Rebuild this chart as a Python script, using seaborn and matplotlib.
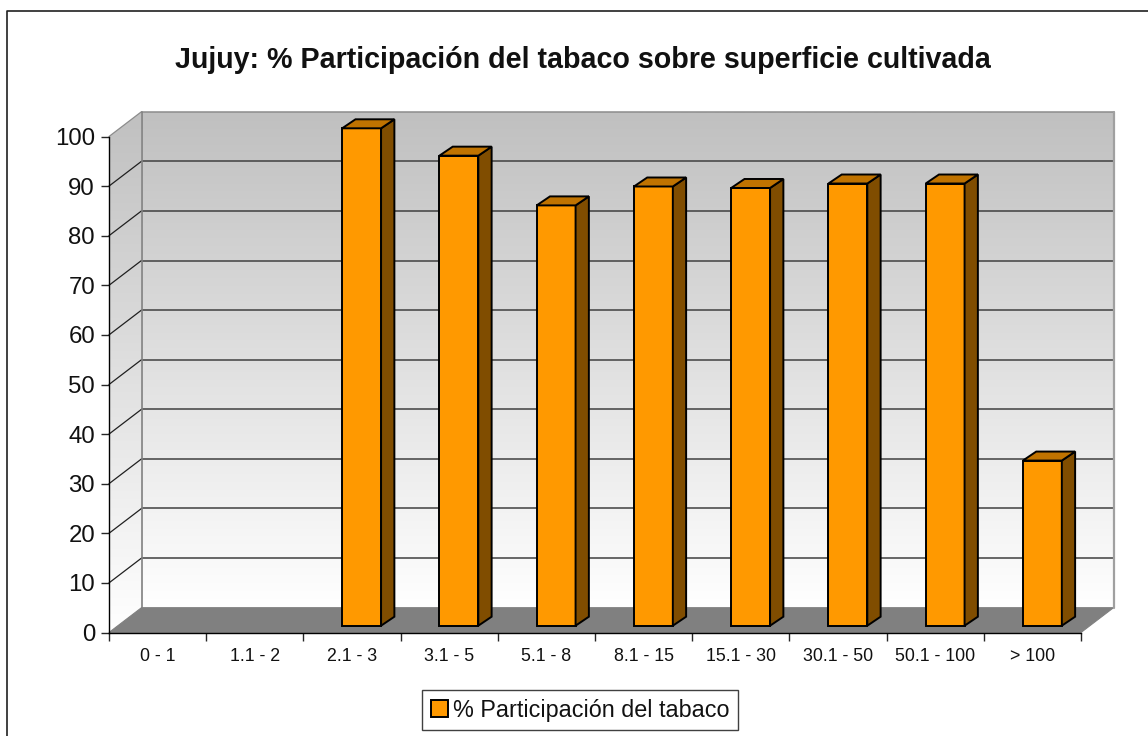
import numpy as np
import pandas as pd
import seaborn as sns
import matplotlib.pyplot as plt
from matplotlib.patches import Polygon, Rectangle

# Data
categories = ['0 - 1', '1.1 - 2', '2.1 - 3', '3.1 - 5', '5.1 - 8', '8.1 - 15',
              '15.1 - 30', '30.1 - 50', '50.1 - 100', '> 100']
values = [0, 0, 100, 94.5, 84.5, 88.3, 88.0, 88.9, 88.9, 33.2]
yticks = list(range(0, 101, 10))
series_name = '% Participación del tabaco'
title = 'Jujuy: % Participación del tabaco sobre superficie cultivada'

W, H = 1148, 736
sns.set_theme(style='white')
plt.rcParams['font.family'] = ['Liberation Sans', 'DejaVu Sans']

def px_axes(fig, left, right, top, bottom):
    # axes placed by pixel edges (y counted from the top of the image)
    return fig.add_axes([left / W, 1 - bottom / H, (right - left) / W, (bottom - top) / H])

fig = plt.figure(figsize=(W / 100, H / 100), dpi=100, facecolor='white')

# Background layer in pixel coordinates: walls, floor, gridlines
bg = fig.add_axes([0, 0, 1, 1], zorder=0)
bg.set_xlim(0, W)
bg.set_ylim(H, 0)
bg.axis('off')

fx0, fx1, fy0, fy100 = 109, 1081, 632.5, 136.5   # front plane
dx, dy = 32.5, -24.8                             # depth of the box

gradient = np.linspace(0, 1, 256).reshape(-1, 1)
cmap = sns.blend_palette(['#c0c0c0', '#ffffff'], as_cmap=True)
bg.imshow(gradient, cmap=cmap, extent=[fx0 + dx, fx1 + dx, fy0 + dy, fy100 + dy],
          aspect='auto', zorder=1)
side = bg.imshow(gradient, cmap=cmap, extent=[fx0, fx0 + dx, fy0, fy100 + dy],
                 aspect='auto', zorder=1)
side_poly = Polygon([(fx0, fy0), (fx0, fy100), (fx0 + dx, fy100 + dy), (fx0 + dx, fy0 + dy)],
                    closed=True, transform=bg.transData, facecolor='none', edgecolor='none')
bg.add_patch(side_poly)
side.set_clip_path(side_poly)
bg.set_xlim(0, W)
bg.set_ylim(H, 0)

# floor
bg.add_patch(Polygon([(fx0, fy0), (fx1, fy0), (fx1 + dx, fy0 + dy), (fx0 + dx, fy0 + dy)],
                     closed=True, facecolor='#808080', edgecolor='#808080', lw=0.8, zorder=2))

# gridlines on back wall and side wall
for t in yticks[1:]:
    y = fy0 + (fy100 - fy0) * t / 100
    col = '#8c8c8c' if t == 100 else '#404040'
    bg.plot([fx0 + dx, fx1 + dx], [y + dy, y + dy], color=col, lw=1.1, zorder=3)
    bg.plot([fx0, fx0 + dx], [y, y + dy], color='#8c8c8c' if t == 100 else '#202020', lw=0.9, zorder=3)

# wall edges
bg.plot([fx0 + dx, fx0 + dx], [fy100 + dy, fy0 + dy], color='#808080', lw=1.2, zorder=3)
bg.plot([fx1 + dx, fx1 + dx], [fy100 + dy, fy0 + dy], color='#a0a0a0', lw=1.6, zorder=3)

# outer chart frame, only its top and left edges fall inside the image
bg.plot([6.5, 6.5, W], [H, 10.5, 10.5], color='#202020', lw=1.2, zorder=3)

# Front plane: axis lines, ticks and labels
ax = px_axes(fig, fx0, fx1, fy100, fy0)
ax.set_zorder(1)
ax.patch.set_visible(False)
ax.set_xlim(-0.5, len(categories) - 0.5)
ax.set_ylim(0, 100)
ax.spines['top'].set_visible(False)
ax.spines['right'].set_visible(False)
for s in ['left', 'bottom']:
    ax.spines[s].set_color('black')
    ax.spines[s].set_linewidth(1.0)
ax.set_yticks(yticks)
ax.set_yticklabels([str(t) for t in yticks], fontsize=17.3, color='#111111')
ax.tick_params(axis='y', which='major', left=True, length=6, width=1, pad=4)
ax.set_xticks(np.arange(len(categories) + 1) - 0.5)
ax.set_xticklabels([])
ax.tick_params(axis='x', which='major', bottom=True, length=6, width=1)
ax.set_xticks(np.arange(len(categories)), minor=True)
ax.set_xticklabels(categories, minor=True, fontsize=12.8, color='#111111')
ax.tick_params(axis='x', which='minor', bottom=False, pad=7)

# Bars, on their own axes because they stand inside the box depth
df = pd.DataFrame({'category': categories, 'value': values})
ax_bars = px_axes(fig, 118.5, 1091, 128.3, 625.7)
ax_bars.set_zorder(2)
ax_bars.patch.set_visible(False)
sns.barplot(data=df, x='category', y='value', color='#FF9900', saturation=1, width=0.4,
            edgecolor='black', linewidth=1.4, ax=ax_bars)
ax_bars.set_xlim(-0.5, len(categories) - 0.5)
ax_bars.set_ylim(0, 100)
ax_bars.axis('off')

# top and side faces of each bar
depth_x = 13.3 / 97.25
depth_y = 9 / 4.974
for p in list(ax_bars.patches):
    h = p.get_height()
    if h <= 0:
        p.set_visible(False)
        continue
    p.set_clip_on(False)
    x0 = p.get_x()
    x1 = x0 + p.get_width()
    ax_bars.add_patch(Polygon([(x1, 0), (x1 + depth_x, depth_y), (x1 + depth_x, h + depth_y), (x1, h)],
                              closed=True, facecolor='#804D00', edgecolor='black', lw=1.4,
                              clip_on=False, zorder=1))
    ax_bars.add_patch(Polygon([(x0, h), (x0 + depth_x, h + depth_y), (x1 + depth_x, h + depth_y), (x1, h)],
                              closed=True, facecolor='#C07300', edgecolor='black', lw=1.4,
                              clip_on=False, zorder=1))

fig.text(582.5 / W, 1 - 59.5 / H, title, fontsize=20.6, fontweight='bold', color='#111111',
         ha='center', va='center')

handle = Rectangle((0, 0), 1, 1, facecolor='#FF9900', edgecolor='black', lw=1.4)
leg = fig.legend([handle], [series_name], loc='center', bbox_to_anchor=(580 / W, 1 - 710 / H),
                 frameon=True, fancybox=False, edgecolor='#404040', framealpha=1,
                 fontsize=16.8, labelcolor='#111111', handlelength=0.75, handleheight=0.75,
                 handletextpad=0.2, borderpad=0.38, borderaxespad=0)
leg.get_frame().set_linewidth(1.0)
leg.set_zorder(5)

fig.savefig('out.png', dpi=100, facecolor='white')
